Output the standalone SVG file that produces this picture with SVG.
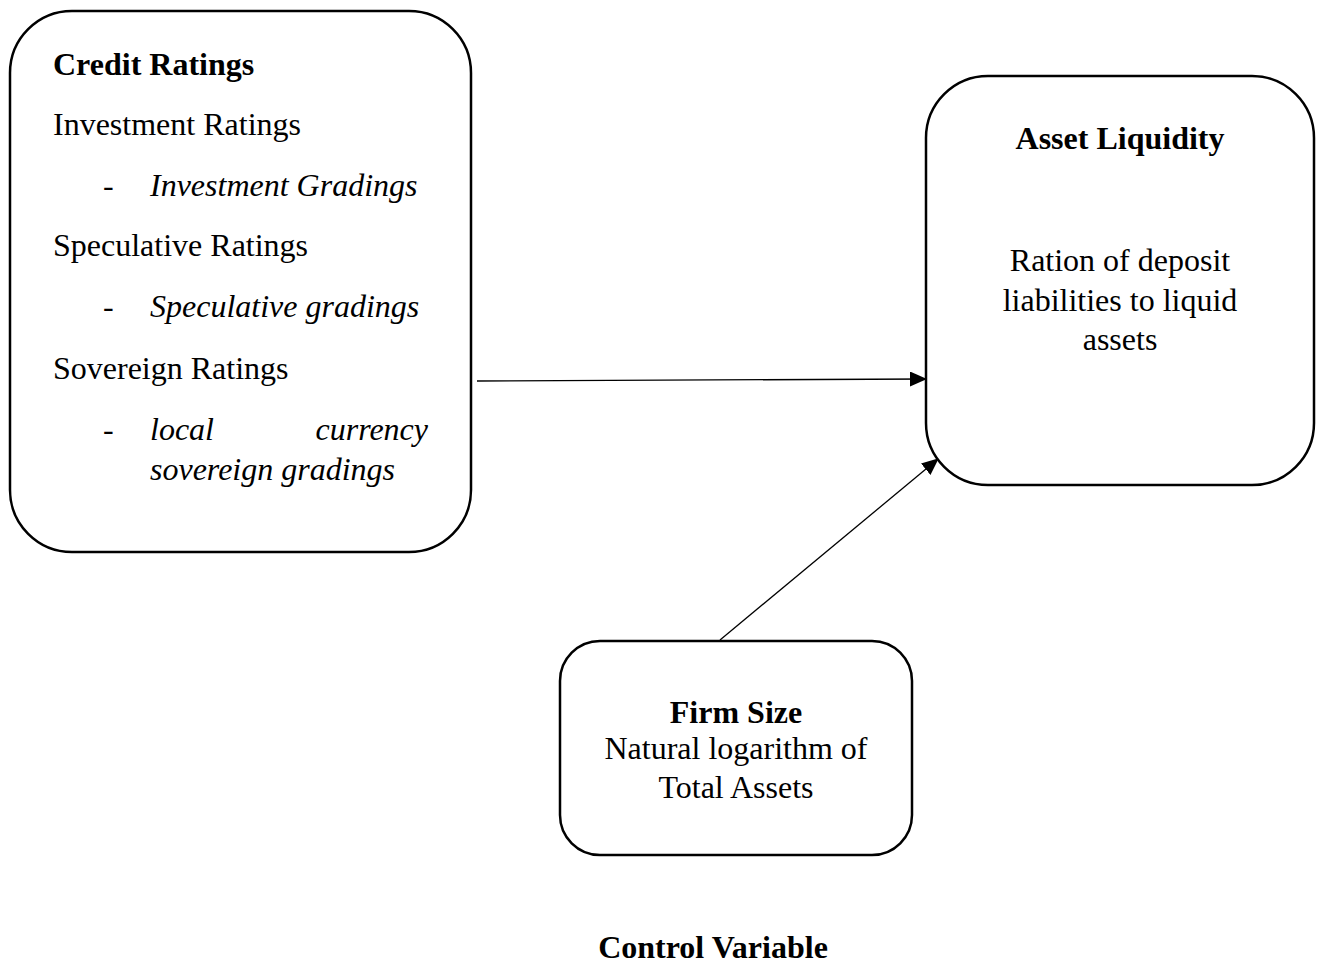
<svg xmlns="http://www.w3.org/2000/svg" width="1319" height="963" viewBox="0 0 1319 963">
<style>
.box{fill:#fff;stroke:#000;stroke-width:2.5}
.t{font-family:"Liberation Serif","Times New Roman",serif;font-size:32px;fill:#000}
.b{font-weight:bold}
.i{font-style:italic}
.c{text-anchor:middle}
.con{stroke:#000;stroke-width:1.3;fill:none}
</style>
<defs>
<marker id="ah2" markerWidth="17" markerHeight="15" refX="16" refY="7.5" orient="auto" markerUnits="userSpaceOnUse" viewBox="0 0 17 15">
<path d="M0,0 L17,7.5 L0,15 z" fill="#000"/>
</marker>
</defs>
<rect width="1319" height="963" fill="#fff"/>
<g id="connectors">
<line class="con" x1="477" y1="381" x2="926" y2="379" marker-end="url(#ah2)"/>
<line class="con" x1="720" y1="640" x2="938" y2="459" marker-end="url(#ah2)"/>
</g>
<g id="credit-ratings">
<rect class="box" x="10" y="11" width="461" height="541" rx="62" ry="62"/>
<text class="t b" x="53" y="75">Credit Ratings</text>
<text class="t" x="53" y="135">Investment Ratings</text>
<text class="t" x="103" y="196">-</text>
<text class="t i" x="150" y="196">Investment Gradings</text>
<text class="t" x="53" y="256">Speculative Ratings</text>
<text class="t" x="103" y="317">-</text>
<text class="t i" x="150" y="317">Speculative gradings</text>
<text class="t" x="53" y="379">Sovereign Ratings</text>
<text class="t" x="103" y="440">-</text>
<text class="t i" x="150" y="440">local</text>
<text class="t i" x="428" y="440" text-anchor="end">currency</text>
<text class="t i" x="150" y="480">sovereign gradings</text>
</g>
<g id="asset-liquidity">
<rect class="box" x="926" y="76" width="388" height="409" rx="62" ry="62"/>
<text class="t b c" x="1120" y="149">Asset Liquidity</text>
<text class="t c" x="1120" y="271">Ration of deposit</text>
<text class="t c" x="1120" y="311">liabilities to liquid</text>
<text class="t c" x="1120" y="350">assets</text>
</g>
<g id="firm-size">
<rect class="box" x="560" y="641" width="352" height="214" rx="40" ry="40"/>
<text class="t b c" x="736" y="723">Firm Size</text>
<text class="t c" x="736" y="759">Natural logarithm of</text>
<text class="t c" x="736" y="798">Total Assets</text>
</g>
<g id="control-variable">
<text class="t b c" x="713" y="958">Control Variable</text>
</g>
</svg>
